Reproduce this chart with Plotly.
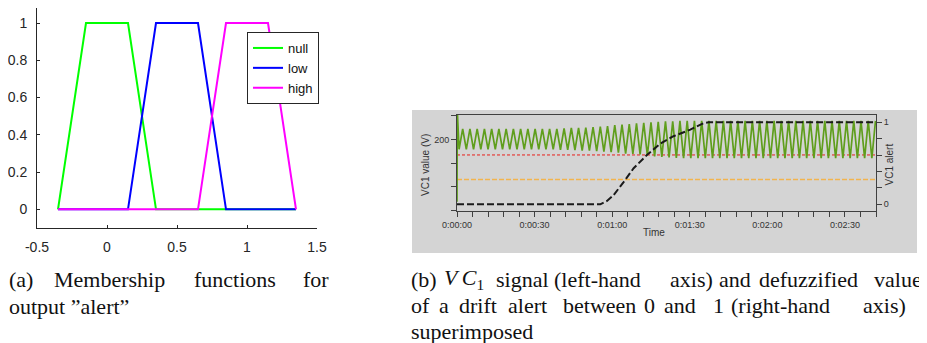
import plotly.graph_objects as go

# ---------------- data: (a) membership functions ----------------
null_x = [-0.35, -0.15, 0.15, 0.35, 1.35]
null_y = [0, 1, 1, 0, 0]
low_x = [-0.35, 0.15, 0.35, 0.65, 0.85, 1.35]
low_y = [0, 0, 1, 1, 0, 0]
high_x = [-0.35, 0.65, 0.85, 1.15, 1.35]
high_y = [0, 0, 1, 1, 0]
mf_xticks = [-0.5, 0, 0.5, 1, 1.5]
mf_xticklabels = ["-0.5", "0", "0.5", "1", "1.5"]
mf_yticks = [0, 0.2, 0.4, 0.6, 0.8, 1]
mf_yticklabels = ["0", "0.2", "0.4", "0.6", "0.8", "1"]

# ---------------- data: (b) VC1 signal and alert ----------------
vc1_time = [0, 0.1,
            0.8, 2.2, 3.6, 5.0, 6.4, 7.8, 9.2, 10.6, 12.0, 13.4, 14.8, 16.2, 17.6, 19.0,
            20.4, 21.8, 23.2, 24.6, 26.0, 27.4, 28.8, 30.2, 31.6, 33.0, 34.4, 35.8,
            37.2, 38.6, 40.0, 41.4, 42.8, 44.2, 45.6, 47.0, 48.4, 49.8, 51.2, 52.6,
            54.0, 55.4, 56.8, 58.2, 59.6, 61.0, 62.4, 63.8, 65.2, 66.6, 68.0, 69.4,
            70.8, 72.2, 73.6, 75.0, 76.4, 77.8, 79.2, 80.6, 82.0, 83.4, 84.8, 86.2,
            87.6, 89.0, 90.4, 91.8, 93.2, 94.6, 96.0, 97.4, 98.8, 100.2, 101.6, 103.0,
            104.4, 105.8, 107.2, 108.6, 110.0, 111.4, 112.8, 114.2, 115.6, 117.0, 118.4,
            119.8, 121.2, 122.6, 124.0, 125.4, 126.8, 128.2, 129.6, 131.0, 132.4, 133.8,
            135.2, 136.6, 138.0, 139.4, 140.8, 142.2, 143.6, 145.0, 146.4, 147.8, 149.2,
            150.6, 152.0, 153.4, 154.8, 156.2, 157.6, 159.0, 160.4, 161.8]
vc1_value = [68, 262,
             179, 222, 179, 222, 179, 222, 179, 222, 179, 222, 179, 222, 179, 222,
             179, 222, 179, 222, 179, 222, 179, 222, 179, 222, 179, 222,
             179, 222, 178, 223, 178, 224, 177, 224, 176, 225, 176, 226,
             175, 227, 174, 228, 173, 230, 172, 231, 170, 232, 169, 234,
             168, 235, 166, 236, 164, 237, 163, 238, 162, 238, 161, 239,
             160, 239, 160, 239, 160, 239, 160, 239, 160, 239, 160, 239,
             160, 239, 160, 239, 160, 239, 160, 239, 160, 239, 160,
             239, 160, 239, 160, 239, 160, 239, 160, 239, 160, 239,
             160, 239, 160, 239, 160, 239, 160, 239, 160, 239, 160,
             239, 160, 239, 160, 239, 160, 239, 160, 239]
alert_time = [0, 55.4, 58.0, 60.5, 64.4, 68.3, 73.4, 78.6, 83.7, 90.2, 95.3, 97.3, 162]
alert_value = [0, 0, 0.04, 0.11, 0.27, 0.44, 0.60, 0.74, 0.83, 0.91, 0.99, 1.0, 1.0]
limit_time = [0, 162]
limit_red = [167, 167]
limit_orange = [115, 115]
time_ticks = [0, 30, 60, 90, 120, 150]
time_ticklabels = ["0:00:00", "0:00:30", "0:01:00", "0:01:30", "0:02:00", "0:02:30"]
vc1_ticks = [200]
vc1_ticklabels = ["200"]
alert_ticks = [0, 1]
alert_ticklabels = ["0", "1"]

# the page body keeps an 8px margin, so the figure is laid out 8px in from the window edge
OFF = 8
W, H = 927 - OFF, 343 - OFF
def px(x):
    return min(max((x - OFF) / W, 0), 1)
def py(y):
    return min(max(1 - (y - OFF) / H, 0), 1)

fig = go.Figure()

# (a)
fig.add_trace(go.Scatter(x=null_x, y=null_y, name="null", mode="lines",
                         line=dict(color="#00ff00", width=2), xaxis="x", yaxis="y"))
fig.add_trace(go.Scatter(x=low_x, y=low_y, name="low", mode="lines",
                         line=dict(color="#0000ff", width=2), xaxis="x", yaxis="y"))
fig.add_trace(go.Scatter(x=high_x, y=high_y, name="high", mode="lines",
                         line=dict(color="#ff00ff", width=2), xaxis="x", yaxis="y"))

# (b)
fig.add_trace(go.Scatter(x=limit_time, y=limit_orange, mode="lines", showlegend=False,
                         line=dict(color="#f2b44e", width=1.4, dash="5px,2px"),
                         xaxis="x2", yaxis="y2"))
fig.add_trace(go.Scatter(x=limit_time, y=limit_red, mode="lines", showlegend=False,
                         line=dict(color="#e8201c", width=1, dash="3px,2px"),
                         xaxis="x2", yaxis="y2"))
fig.add_trace(go.Scatter(x=vc1_time, y=vc1_value, mode="lines", showlegend=False,
                         line=dict(color="#5f9e1c", width=1.7),
                         xaxis="x2", yaxis="y2"))
fig.add_trace(go.Scatter(x=alert_time, y=alert_value, mode="lines", showlegend=False,
                         line=dict(color="#1a1a1a", width=2, dash="7px,3px"),
                         xaxis="x2", yaxis="y3"))

axcol = "#262626"
sans = "Liberation Sans, Arial, sans-serif"
small = dict(family=sans, size=9, color="#333333")

fig.update_layout(
    width=W, height=H,
    margin=dict(l=0, r=0, t=0, b=0, pad=0),
    paper_bgcolor="white",
    plot_bgcolor="rgba(0,0,0,0)",
    showlegend=True,
    legend=dict(x=px(247), y=py(32), xanchor="left", yanchor="top",
                bgcolor="white", bordercolor=axcol, borderwidth=1,
                font=dict(family=sans, size=13, color="#111111"),
                itemwidth=30, tracegroupgap=0),
    xaxis=dict(domain=[px(37), px(317)], anchor="y", range=[-0.5, 1.5], automargin=False,
               tickvals=mf_xticks, ticktext=mf_xticklabels,
               ticks="inside", ticklen=3, tickcolor=axcol, showgrid=False, zeroline=False,
               showline=True, linecolor=axcol, linewidth=1, ticklabelstandoff=6,
               tickfont=dict(family=sans, size=14, color=axcol)),
    yaxis=dict(domain=[py(228), py(8)], anchor="x", range=[-0.1, 1.0806], automargin=False,
               tickvals=mf_yticks, ticktext=mf_yticklabels,
               ticks="inside", ticklen=3, tickcolor=axcol, showgrid=False, zeroline=False,
               showline=True, linecolor=axcol, linewidth=1, ticklabelstandoff=6,
               tickfont=dict(family=sans, size=14, color=axcol)),
    xaxis2=dict(domain=[px(457), px(876)], anchor="y2", range=[0, 162], automargin=False,
                tickvals=time_ticks, ticktext=time_ticklabels,
                ticks="outside", ticklen=5, tickcolor="#404040",
                minor=dict(dtick=6, tick0=0, ticks="outside", ticklen=5, tickcolor="#404040", showgrid=False),
                showgrid=False, zeroline=False, showline=True, linecolor="#404040",
                linewidth=1, mirror=True, tickfont=small),
    yaxis2=dict(domain=[py(211), py(115)], anchor="x2", range=[48.5, 251.5], automargin=False,
                tickvals=vc1_ticks, ticktext=vc1_ticklabels,
                ticks="outside", ticklen=5, tickcolor="#404040",
                minor=dict(dtick=50, tick0=0, ticks="outside", ticklen=5, tickcolor="#404040", showgrid=False),
                showgrid=False, zeroline=False, showline=True, linecolor="#404040",
                linewidth=1, tickfont=small),
    yaxis3=dict(domain=[py(211), py(115)], anchor="x2", overlaying="y2", side="right",
                range=[-0.082, 1.089], automargin=False,
                tickvals=alert_ticks, ticktext=alert_ticklabels,
                ticks="outside", ticklen=5, tickcolor="#404040",
                minor=dict(dtick=0.2, tick0=0, ticks="outside", ticklen=5, tickcolor="#404040", showgrid=False),
                showgrid=False, zeroline=False, showline=True, linecolor="#404040",
                linewidth=1, tickfont=small),
    shapes=[dict(type="rect", xref="paper", yref="paper",
                 x0=px(412), x1=px(917), y0=py(253), y1=py(110),
                 fillcolor="#d4d4d4", line=dict(width=0), layer="below")],
)

ann = []
# right plot axis titles
ann.append(dict(text="VC1 value (V)", x=px(425), y=py(165), xref="paper", yref="paper",
                showarrow=False, textangle=-90, font=dict(family=sans, size=10, color="#333333")))
ann.append(dict(text="VC1 alert", x=px(896), y=py(165), xref="paper", yref="paper",
                showarrow=False, textangle=-90, font=dict(family=sans, size=10, color="#333333")))
ann.append(dict(text="Time", x=px(666.5), y=py(240), xref="paper", yref="paper",
                showarrow=False, font=dict(family=sans, size=10, color="#333333")))

# captions (justified words)
cap_font = dict(family="Liberation Serif, Times New Roman, serif", size=22, color="#111111")
caption_words = [
    ("(a)", 8, 279), ("Membership", 53, 279), ("functions", 193, 279), ("for", 302, 279),
    ("output \u201dalert\u201d", 8, 306),
    ("(b)", 410, 279), ("<i>V\u2009C</i><sub>1</sub>", 443, 279), ("signal", 495, 279),
    ("(left-hand", 553, 279), ("axis)", 669, 279), ("and", 718, 279),
    ("defuzzified", 758, 279), ("value", 873, 279),
    ("of", 410, 305), ("a", 438, 305), ("drift", 458, 305), ("alert", 507, 305),
    ("between", 562, 305), ("0", 643, 305), ("and", 663, 305), ("1", 712, 305),
    ("(right-hand", 730, 305), ("axis)", 862, 305),
    ("superimposed", 410, 331),
]
for w, x, y in caption_words:
    ann.append(dict(text=w, x=px(x), y=py(y), xref="paper", yref="paper",
                    xanchor="left", yanchor="middle", showarrow=False, font=cap_font,
                    borderpad=0))
fig.update_layout(annotations=ann)

fig.write_html("out.html")
